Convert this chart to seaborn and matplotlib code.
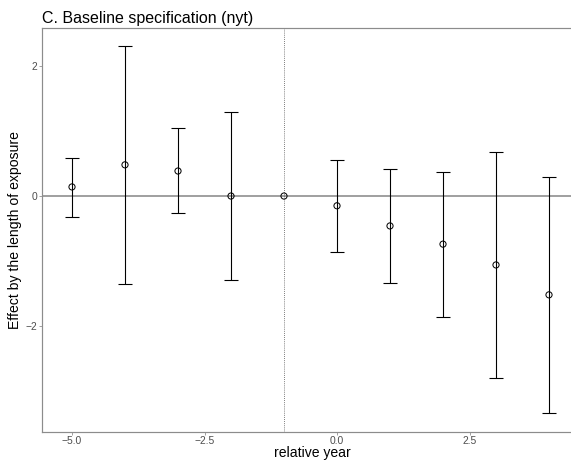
import matplotlib
matplotlib.use("Agg")
import matplotlib.pyplot as plt
import seaborn as sns
import pandas as pd

rel_year = [-5, -4, -3, -2, -1, 0, 1, 2, 3, 4]
estimate = [0.14, 0.48, 0.385, 0.0, 0.0, -0.15, -0.46, -0.74, -1.06, -1.52]
ci_low = [-0.32, -1.35, -0.26, -1.29, 0.0, -0.86, -1.34, -1.86, -2.80, -3.34]
ci_high = [0.585, 2.31, 1.05, 1.29, 0.0, 0.55, 0.415, 0.37, 0.68, 0.29]
x_ticks = [-5.0, -2.5, 0.0, 2.5]
x_tick_labels = ["\u22125.0", "\u22122.5", "0.0", "2.5"]
y_ticks = [-2, 0, 2]
y_tick_labels = ["\u22122", "0", "2"]

df = pd.DataFrame({"rel_year": rel_year, "estimate": estimate,
                   "ci_low": ci_low, "ci_high": ci_high})

sns.set_theme(style="white")
plt.rcParams["font.family"] = ["Liberation Sans", "DejaVu Sans"]

fig = plt.figure(figsize=(571 / 72, 461 / 72), dpi=72)
ax = fig.add_axes([42 / 571, (461 - 432) / 461, 1 - 42 / 571, (432 - 28) / 461])

ax.axhline(0, color="#8a8a8a", lw=1.6, zorder=1)
ax.axvline(-1, color="#333333", lw=0.7, ls=(0, (1.2, 1.8)), zorder=1)

bars = df[df["ci_high"] != df["ci_low"]]
ax.errorbar(bars["rel_year"], bars["estimate"],
            yerr=[bars["estimate"] - bars["ci_low"], bars["ci_high"] - bars["estimate"]],
            fmt="none", ecolor="black", elinewidth=1.1, capsize=7, capthick=1.1, zorder=2)

sns.scatterplot(data=df, x="rel_year", y="estimate", ax=ax, marker="o",
                s=38, facecolor="none", edgecolor="black", linewidth=1.0, zorder=3)

ax.set_xlim(-5.566, 4.415)
ax.set_ylim(-3.63, 2.585)
ax.set_xticks(x_ticks)
ax.set_xticklabels(x_tick_labels)
ax.set_yticks(y_ticks)
ax.set_yticklabels(y_tick_labels)

for side in ["left", "bottom", "top"]:
    ax.spines[side].set_visible(True)
    ax.spines[side].set_color("#8c8c8c")
    ax.spines[side].set_linewidth(1.2)
ax.spines["right"].set_visible(False)

ax.tick_params(axis="both", which="both", length=3, width=0.8, color="#8c8c8c",
               labelsize=10.2, labelcolor="#4d4d4d", pad=1.5, bottom=True, left=True)

ax.set_xlabel("relative year", fontsize=14, color="black")
ax.xaxis.set_label_coords((312 - 42) / (571 - 42), (432 - 446) / 404, transform=ax.transAxes)
ax.xaxis.label.set_va("top")
ax.set_ylabel("Effect by the length of exposure", fontsize=14, color="black")
ax.yaxis.set_label_coords((15 - 42) / (571 - 42), 0.5, transform=ax.transAxes)
ax.yaxis.label.set_va("center")
ax.set_title("C. Baseline specification (nyt)", fontsize=16, loc="left", color="black", pad=5)

fig.savefig("out.png", dpi=72)
